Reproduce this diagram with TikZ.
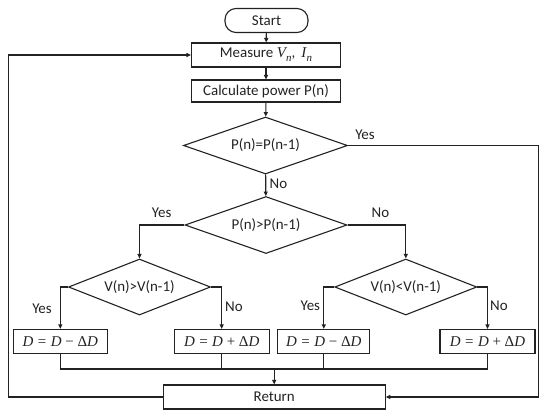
\documentclass[tikz,border=0pt]{standalone}
\usepackage{fontspec}
\setmainfont{Carlito}
\newfontfamily\mfont{Liberation Serif}
\usetikzlibrary{shapes.geometric,arrows.meta}
\definecolor{ink}{HTML}{222222}
\newcommand{\mvar}[1]{{\mfont\itshape #1}}
\newcommand{\msub}[2]{{\mfont\itshape #1\kern0.3pt\raisebox{-0.28em}{\fontsize{11}{11}\selectfont #2}}}
\newcommand{\dupd}[1]{\mvar{D}\hspace{0.3em}=\hspace{0.3em}\mvar{D}\hspace{0.25em}#1\hspace{0.25em}{\mfont Δ}\mvar{D}}
\tikzset{
  base/.style={draw=ink, line width=1.1bp, text=ink, inner sep=0pt, font=\fontsize{15}{17}\selectfont},
  procbox/.style={base, rectangle, minimum height=24bp},
  pill/.style={base, rectangle, rounded corners=11bp, minimum width=83bp, minimum height=24bp},
  decide/.style={base, diamond, aspect=3, minimum width=142bp, minimum height=56bp},
  mathbox/.style={procbox, minimum width=94bp, font=\fontsize{15}{17}\mfont},
  lbl/.style={text=ink, inner sep=0pt, font=\fontsize{15}{17}\selectfont},
  conn/.style={draw=ink, line width=1.1bp},
  arr/.style={conn, -{Triangle[length=4.5bp,width=4bp]}}
}
\begin{document}
\begin{tikzpicture}[x=1bp,y=-1bp]
\useasboundingbox (0,0) rectangle (550,416);
\node[pill] (start) at (266.5,20.5) {Start};
\node[procbox, minimum width=149bp] (meas) at (266,55) {Measure \msub{V}{n},\hspace{0.4em}\msub{I}{n}};
\node[procbox, minimum width=149bp, minimum height=22bp] (calc) at (266,91) {Calculate power P(n)};
\node[decide, minimum width=164bp, minimum height=57bp] (d1) at (265.5,145.5) {P(n)=P(n-1)};
\node[decide, minimum width=162bp, minimum height=57bp] (d2) at (266,225) {P(n)>P(n-1)};
\node[decide] (d3) at (139.5,287) {V(n)>V(n-1)};
\node[decide] (d4) at (405.8,287) {V(n)<V(n-1)};
\node[mathbox] (b1) at (60.3,341.5) {\dupd{−}};
\node[mathbox, minimum width=95bp] (b2) at (221.7,341.5) {\dupd{+}};
\node[mathbox, minimum width=92bp] (b3) at (323.8,341.5) {\dupd{−}};
\node[mathbox, minimum width=95bp] (b4) at (487.5,341.5) {\dupd{+}};
\node[procbox, minimum width=222bp] (ret) at (274.2,397) {Return};

\coordinate (mline) at (0,369);
\coordinate (rcol) at (538.3,0);
\coordinate (lcol) at (8.5,0);

\draw[arr] (start) -- (meas);
\draw[arr] (meas) -- (calc);
\draw[arr] (calc) -- (d1);
\draw[arr] (d1) -- (d2);
\draw[arr] (d2.west) -| (d3.north);
\draw[arr] (d2.east) -| (d4.north);
\draw[arr] (d3.west) -| (b1.north);
\draw[arr] (d3.east) -| (b2.north);
\draw[arr] (d4.west) -| (b3.north);
\draw[arr] (d4.east) -| (b4.north);
\draw[conn] (b1.south) |- (b4.south |- mline) -- (b4.south);
\draw[conn] (b2.south) -- (b2.south |- mline);
\draw[conn] (b3.south) -- (b3.south |- mline);
\draw[arr] (ret.north |- mline) -- (ret.north);
\draw[arr] (d1.east) -- (d1.east -| rcol) -- (rcol |- ret.east) -- (ret.east);
\draw[arr] (ret.west) -- (ret.west -| lcol) -- (lcol |- meas.west) -- (meas.west);

\node[lbl] (y1) at (365,135) {Yes};
\node[lbl] (n1) at (278.5,184) {No};
\node[lbl] (y2) at (161.7,213) {Yes};
\node[lbl] (n2) at (380.5,212.5) {No};
\node[lbl] (y3) at (42,309) {Yes};
\node[lbl] (n3) at (234,307) {No};
\node[lbl] (y4) at (310.3,306) {Yes};
\node[lbl] (n4) at (499,306) {No};
\end{tikzpicture}
\end{document}
